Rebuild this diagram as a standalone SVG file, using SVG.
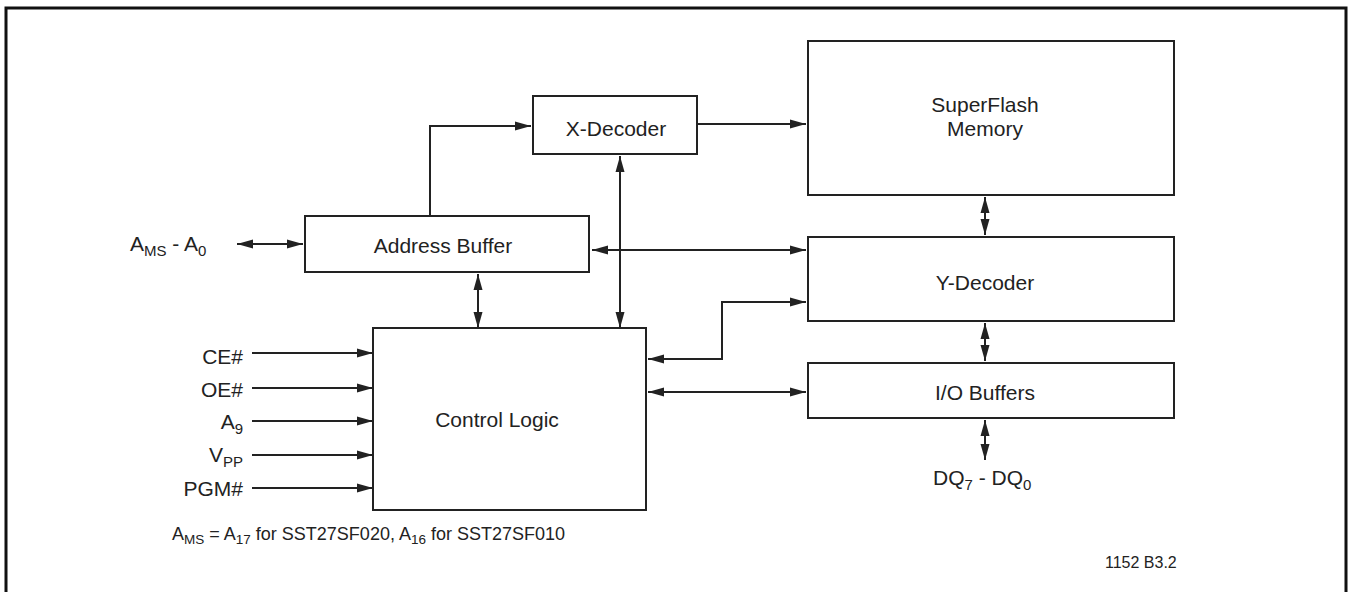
<svg xmlns="http://www.w3.org/2000/svg" width="1350" height="592" viewBox="0 0 1350 592">
<style>
.box{fill:#fff;stroke:#222;stroke-width:2}
.ln{fill:none;stroke:#222;stroke-width:2}
.a2{marker-start:url(#ah);marker-end:url(#ah)}
.a1{marker-end:url(#ah)}
text{font-family:"Liberation Sans",Arial,sans-serif;fill:#222;font-size:21px}
.c{text-anchor:middle}
.r{text-anchor:end}
.fn{font-size:18px}
.id{font-size:16px}
</style>
<defs>
<marker id="ah" markerUnits="userSpaceOnUse" markerWidth="16" markerHeight="10" refX="16" refY="4.5" orient="auto-start-reverse" viewBox="0 0 16 9">
<path d="M0,0 L16,4.5 L0,9 z" fill="#222"/>
</marker>
</defs>
<rect x="0" y="0" width="1350" height="592" fill="#fff"/>
<path d="M6,600 V8 H1346 V600" fill="none" stroke="#111" stroke-width="3"/>

<g id="connectors">
<path class="ln a2" d="M237,244 H303"/>
<path class="ln a1" d="M430,216 V126 H531"/>
<path class="ln a1" d="M697,124 H806"/>
<path class="ln a2" d="M592,250 H806"/>
<path class="ln a2" d="M620,156 V328"/>
<path class="ln a2" d="M478,274 V328"/>
<path class="ln a2" d="M648,359 H722 V302 H806"/>
<path class="ln a2" d="M648,392 H806"/>
<path class="ln a2" d="M985,197 V235"/>
<path class="ln a2" d="M985,323 V361"/>
<path class="ln a2" d="M985,420 V460"/>
<path class="ln a1" d="M252,353 H373"/>
<path class="ln a1" d="M252,388 H373"/>
<path class="ln a1" d="M252,421 H373"/>
<path class="ln a1" d="M252,455 H373"/>
<path class="ln a1" d="M252,488 H373"/>
</g>

<g id="x-decoder">
<rect class="box" x="533" y="96" width="164" height="58"/>
<text class="c" x="616" y="136">X-Decoder</text>
</g>
<g id="superflash">
<rect class="box" x="808" y="41" width="366" height="154"/>
<text class="c" x="985" y="112">SuperFlash</text>
<text class="c" x="985" y="136">Memory</text>
</g>
<g id="address-buffer">
<rect class="box" x="305" y="216" width="284" height="56"/>
<text class="c" x="443" y="253">Address Buffer</text>
</g>
<g id="y-decoder">
<rect class="box" x="808" y="237" width="366" height="84"/>
<text class="c" x="985" y="290">Y-Decoder</text>
</g>
<g id="control-logic">
<rect class="box" x="373" y="328" width="273" height="182"/>
<text class="c" x="497" y="427">Control Logic</text>
</g>
<g id="io-buffers">
<rect class="box" x="808" y="363" width="366" height="55"/>
<text class="c" x="985" y="400">I/O Buffers</text>
</g>

<g id="labels">
<text x="130" y="251">A<tspan font-size="15" dy="5">MS</tspan><tspan dy="-5"> - A</tspan><tspan font-size="15" dy="5">0</tspan></text>
<text class="r" x="243" y="364">CE#</text>
<text class="r" x="243" y="397">OE#</text>
<text class="r" x="243" y="429">A<tspan font-size="15" dy="5">9</tspan></text>
<text class="r" x="243" y="462">V<tspan font-size="15" dy="5">PP</tspan></text>
<text class="r" x="243" y="496">PGM#</text>
<text x="933" y="485">DQ<tspan font-size="15" dy="5">7</tspan><tspan dy="-5"> - DQ</tspan><tspan font-size="15" dy="5">0</tspan></text>
<text class="fn" x="172" y="540">A<tspan font-size="13.5" dy="4">MS</tspan><tspan dy="-4"> = A</tspan><tspan font-size="13.5" dy="4">17</tspan><tspan dy="-4"> for SST27SF020, A</tspan><tspan font-size="13.5" dy="4">16</tspan><tspan dy="-4"> for SST27SF010</tspan></text>
<text class="id" x="1105" y="568">1152 B3.2</text>
</g>
</svg>
